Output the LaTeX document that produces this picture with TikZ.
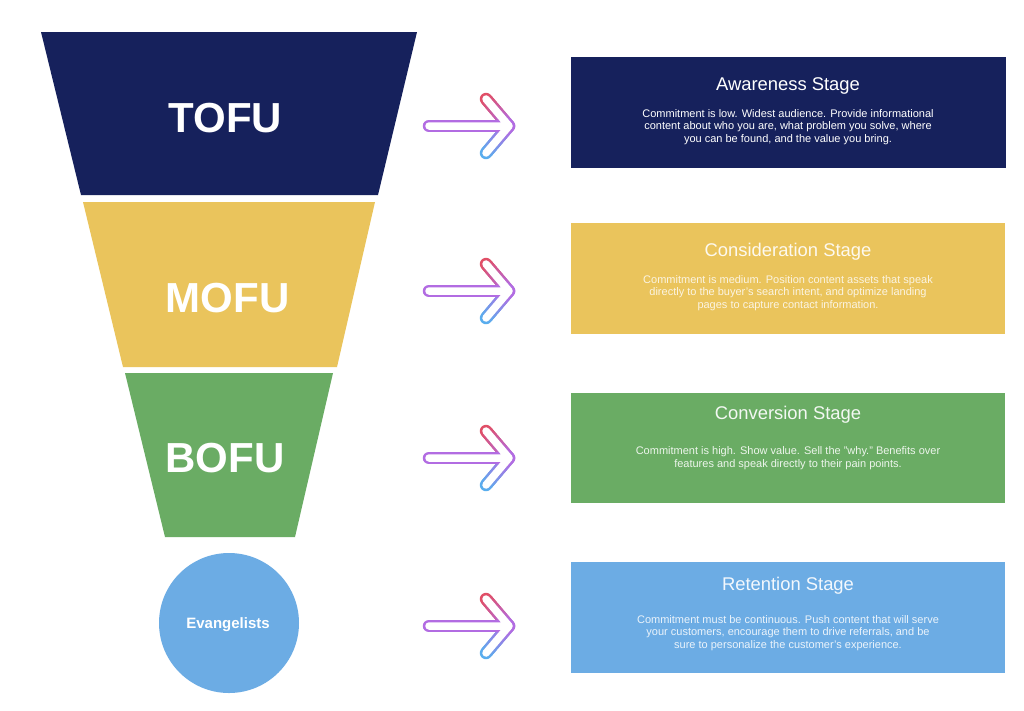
\documentclass[tikz,border=0pt]{standalone}
\usepackage{fontspec}
\setmainfont{Liberation Sans}
\usetikzlibrary{calc}
\definecolor{navy}{RGB}{22,33,92}
\definecolor{yel}{RGB}{234,196,92}
\definecolor{grn}{RGB}{106,172,100}
\definecolor{lblue}{RGB}{108,172,228}
\definecolor{arred}{RGB}{226,78,98}
\definecolor{arpurple}{RGB}{178,108,226}
\definecolor{arblue}{RGB}{86,176,238}
\tikzset{
  funnellabel/.style={font=\bfseries\fontsize{42}{42}\selectfont, text=white, inner sep=0pt, anchor=base},
  stagebox/.style={draw=none, minimum width=434pt, minimum height=111pt, inner sep=0pt},
  stagetitle/.style={font=\fontsize{18.4}{20}\selectfont, inner sep=0pt, anchor=base},
  stagebody/.style={font=\fontsize{11}{12.1}\selectfont, align=center, inner sep=0pt, anchor=base},
}
\newcommand{\gradarrow}[2]{%
  \begin{scope}[shift={(0,#2)}]
    \coordinate (#1s) at (429,0);
    \coordinate (#1t) at (509,0);
    \coordinate (#1u) at (486,-27);
    \coordinate (#1d) at (486,27);
    \foreach \i in {0,...,15} {
      \pgfmathsetmacro\ta{\i/16}
      \pgfmathsetmacro\tb{(\i+1)/16}
      \pgfmathtruncatemacro\p{100*(\i+0.5)/16}
      \draw[line width=12.5pt, line cap=round, color=arpurple!\p!arred] ($(#1u)!\ta!(#1t)$) -- ($(#1u)!\tb!(#1t)$);
      \draw[line width=12.5pt, line cap=round, color=arpurple!\p!arblue] ($(#1d)!\ta!(#1t)$) -- ($(#1d)!\tb!(#1t)$);
    }
    \draw[line width=12.5pt, line cap=round, arpurple] (#1s) -- (#1t);
    \draw[line width=7.5pt, line cap=round, line join=round, white] (#1s) -- (#1t) (#1u) -- (#1t) -- (#1d);
  \end{scope}}
\begin{document}
\begin{tikzpicture}[x=1pt, y=-1pt]
\useasboundingbox (0,0) rectangle (1024,710);
\fill[white] (0,0) rectangle (1024,710);
% funnel
\fill[navy] (41,32) -- (417,32) -- (378,195) -- (81,195) -- cycle;
\fill[yel] (83,202) -- (375,202) -- (337,367) -- (123,367) -- cycle;
\fill[grn] (125,373) -- (333,373) -- (295,537) -- (165,537) -- cycle;
\node[circle, fill=lblue, minimum size=140pt, inner sep=0pt] (evc) at (229,623) {};
\node[funnellabel] (tofu) at (225.5,132) {TOFU};
\node[funnellabel] (mofu) at (227.5,312) {MOFU};
\node[funnellabel] (bofu) at (225,472) {BOFU};
\node[font=\bfseries\fontsize{15}{15}\selectfont, text=white, inner sep=0pt, anchor=base] (evl) at (228,628) {Evangelists};
% arrows
\gradarrow{aa}{126}
\gradarrow{ab}{291}
\gradarrow{ac}{458}
\gradarrow{ad}{626}
% stage boxes
\node[stagebox, fill=navy, minimum width=435pt] (s1) at (788.5,112.5) {};
\node[stagebox, fill=yel] (s2) at (788,278.5) {};
\node[stagebox, fill=grn, minimum height=110pt] (s3) at (788,448) {};
\node[stagebox, fill=lblue] (s4) at (788,617.5) {};
% texts
\node[stagetitle, text=white] (t1) at (788,90) {Awareness Stage};
\node[stagebody, text=white] (b1) at (788,142) {Commitment is low. Widest audience. Provide informational\\content about who you are, what problem you solve, where\\you can be found, and the value you bring.};
\node[stagetitle, text=white!90!yel] (t2) at (788,256) {Consideration Stage};
\node[stagebody, text=white!82!yel] (b2) at (788,308) {Commitment is medium. Position content assets that speak\\directly to the buyer's search intent, and optimize landing\\pages to capture contact information.};
\node[stagetitle, text=white!92!grn] (t3) at (788,419) {Conversion Stage};
\node[stagebody, text=white!88!grn] (b3) at (788,467) {Commitment is high. Show value. Sell the "why." Benefits over\\features and speak directly to their pain points.};
\node[stagetitle, text=white!92!lblue] (t4) at (788,590) {Retention Stage};
\node[stagebody, text=white!86!lblue] (b4) at (788,648) {Commitment must be continuous. Push content that will serve\\your customers, encourage them to drive referrals, and be\\sure to personalize the customer's experience.};
\end{tikzpicture}
\end{document}
